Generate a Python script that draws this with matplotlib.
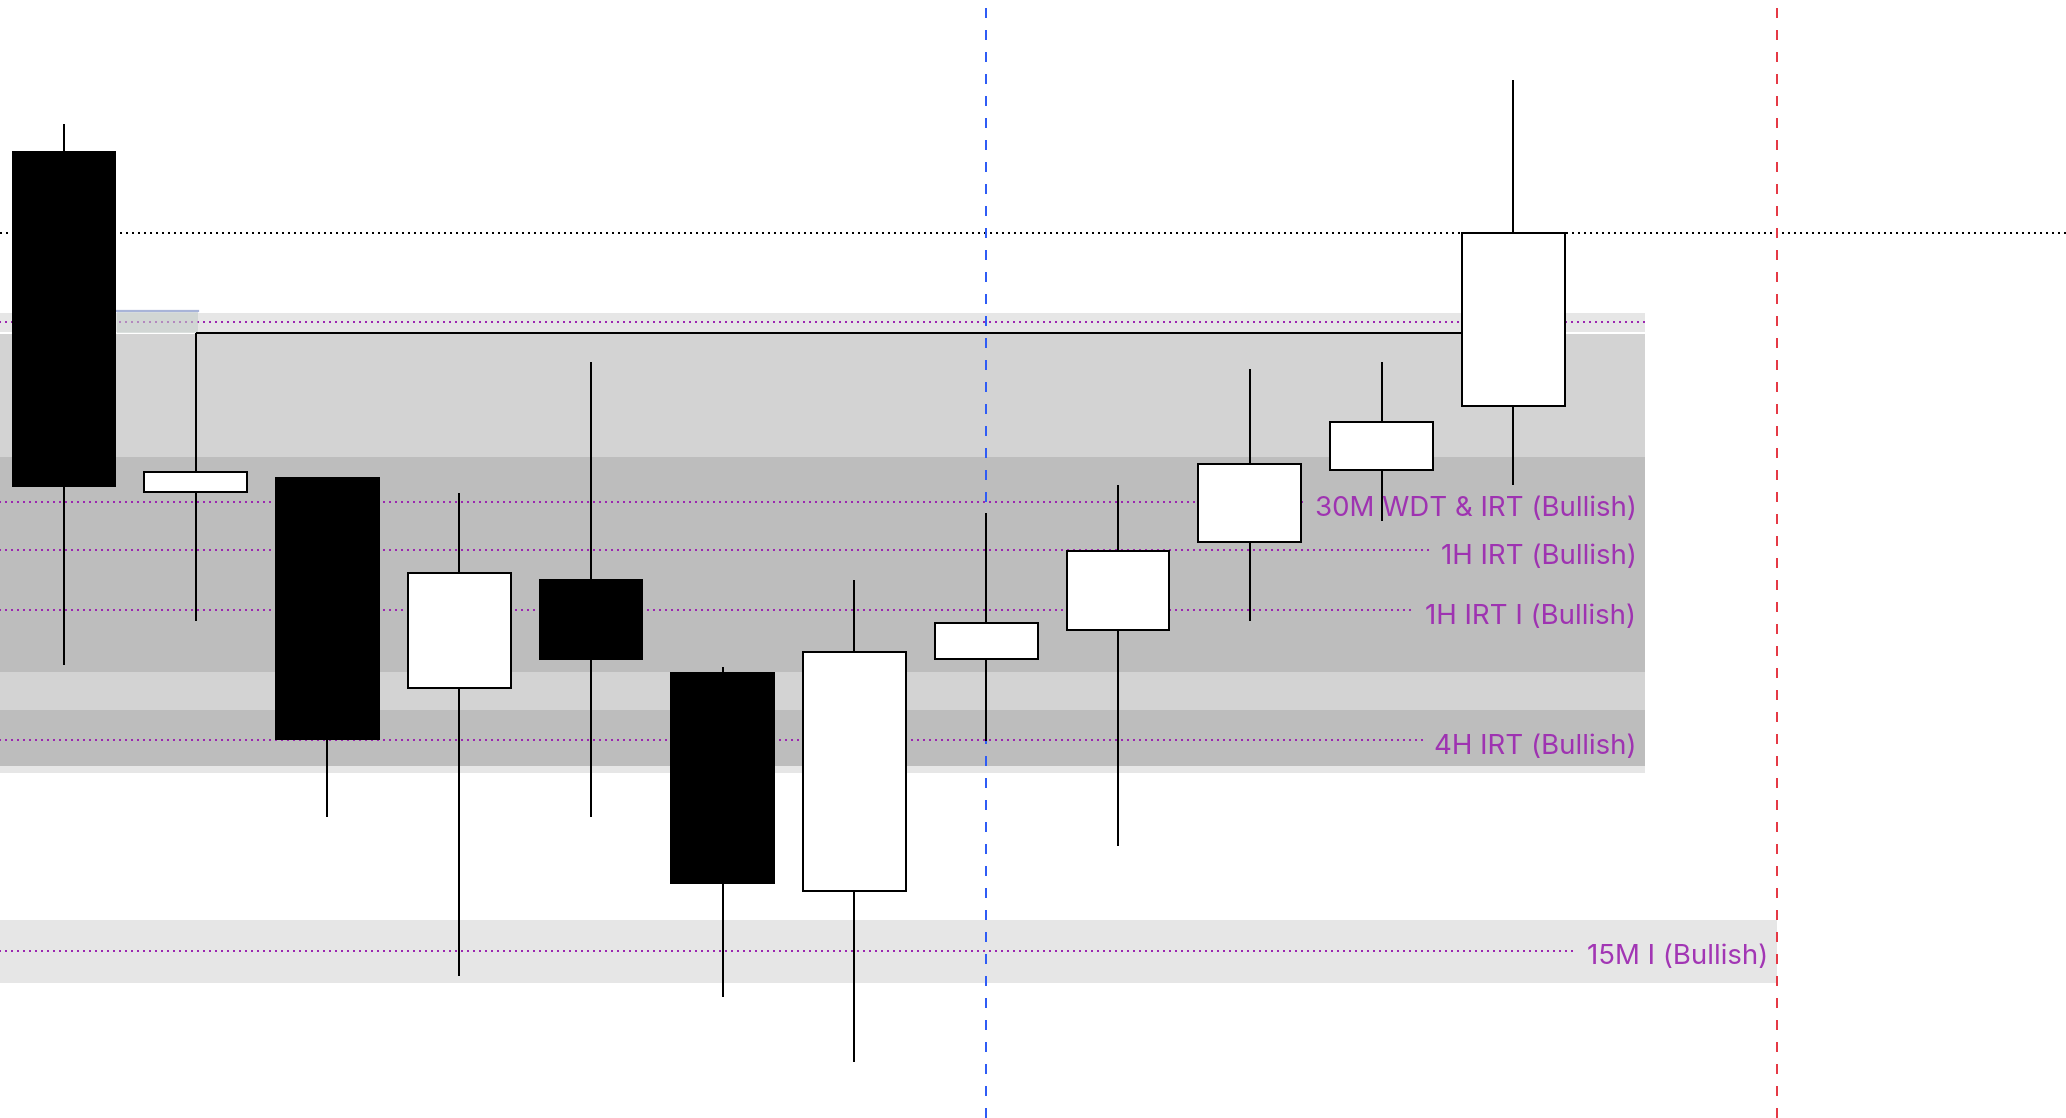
import matplotlib.pyplot as plt
from matplotlib.patches import Rectangle

# OHLC per candle (price units, one candle per x position)
opens = [966.5, 626.5, 639.7, 430.2, 538.3, 444.7, 227.3, 459.2, 488.2, 576.5, 647.6, 712.2]
highs = [994.1, 784.6, 639.7, 625.2, 755.7, 451.3, 538.3, 605.5, 633.1, 749.1, 755.7, 1037.6]
lows = [452.6, 497.4, 301.1, 141.7, 301.1, 120.6, 56.0, 377.5, 272.1, 497.4, 597.5, 633.1]
closes = [631.8, 646.3, 378.8, 544.8, 459.2, 235.2, 465.8, 494.8, 567.2, 654.2, 696.4, 885.3]

# zones: (bottom, top, right end, colour)
zones = [
    (786.0, 805.0, 12, "#e6e6e6"),
    (345.0, 784.0, 12, "#e6e6e6"),
    (352.0, 784.0, 12, "#d3d3d3"),
    (446.0, 661.0, 12, "#bdbdbd"),
    (352.0, 408.0, 12, "#bdbdbd"),
    (135.0, 198.0, 13, "#e6e6e6"),
]

# labelled levels: (price, label, right end)
levels = [
    (796.0, "", 12),
    (616.0, "30M WDT & IRT (Bullish)", 12),
    (568.0, "1H IRT (Bullish)", 12),
    (508.0, "1H IRT I (Bullish)", 12),
    (378.0, "4H IRT (Bullish)", 12),
    (167.0, "15M I (Bullish)", 13),
]

high_level = 885.5      # black dotted line
liq_level = highs[1]    # line from candle 2 high
blue_x = 7
red_x = 13

purple = "#9c27b0"

fig = plt.figure(figsize=(20.66, 11.18), dpi=100)
ax = fig.add_axes([0, 0, 1, 1])
ax.set_xlim(-0.485, 15.195)
ax.set_ylim(0, 1118)
ax.axis("off")

for lo, hi, right, col in zones:
    ax.add_patch(Rectangle((-1, lo), right + 1, hi - lo, facecolor=col,
                           edgecolor="none", zorder=0))

# small highlighted box
ax.add_patch(Rectangle((0.4, 785), 0.62, 22, facecolor="#c4ccc8", alpha=0.6,
                       edgecolor="none", zorder=2))
ax.plot([0.4, 1.02], [807, 807], color="#a8b4d8", lw=1.6, zorder=2)

ax.axhline(high_level, color="black", lw=1.44, dashes=(1, 2), zorder=1)
ax.axvline(blue_x, color="#2f5cf5", lw=1.44, dashes=(5, 6), zorder=1)
ax.axvline(red_x, color="#e53945", lw=1.44, dashes=(5, 6), zorder=1)

ax.plot([1, 11 - 0.39], [liq_level, liq_level], color="black", lw=1.44,
        zorder=2, solid_capstyle="butt")

fig.canvas.draw()
renderer = fig.canvas.get_renderer()
inv = ax.transData.inverted()
for y, label, right in levels:
    end = right
    if label:
        t = ax.text(right - 0.065, y - 3.5, label, ha="right", va="center_baseline",
                    fontsize=19.9, family=["Inter", "DejaVu Sans"],
                    color=purple, alpha=0.92, zorder=6)
        bb = t.get_window_extent(renderer)
        end = inv.transform((bb.x0 - 10, 0))[0]
    ax.plot([-1, end], [y, y], color=purple, lw=1.44, dashes=(1, 2), zorder=1)

w = 0.78
for i, (o, h, l, c) in enumerate(zip(opens, highs, lows, closes)):
    ax.plot([i, i], [l, h], color="black", lw=1.44, zorder=3,
            solid_capstyle="butt")
    face = "white" if c > o else "black"
    ax.add_patch(Rectangle((i - w / 2, min(o, c)), w, abs(c - o),
                           facecolor=face, edgecolor="black", lw=1.44, zorder=4))

fig.savefig("out.png", dpi=100)
